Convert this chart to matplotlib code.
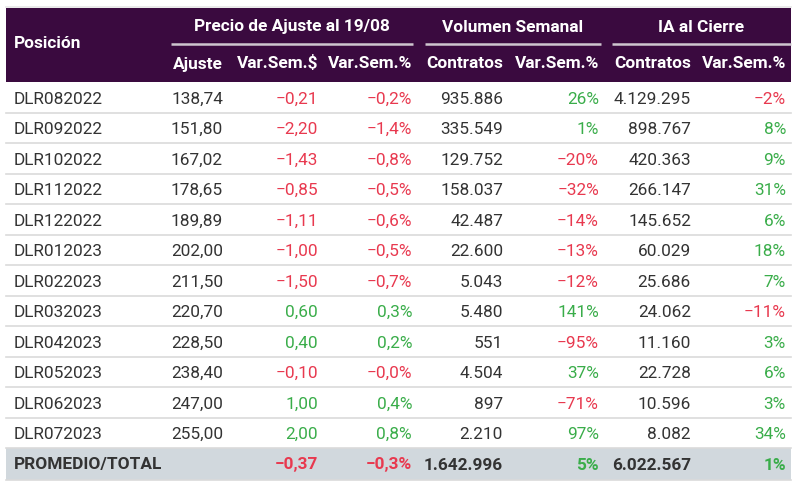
import matplotlib
matplotlib.use("Agg")
import matplotlib.pyplot as plt
from matplotlib.patches import Rectangle

plt.rcParams['font.family'] = ['Roboto', 'DejaVu Sans']

positions = ["DLR082022", "DLR092022", "DLR102022", "DLR112022", "DLR122022", "DLR012023",
             "DLR022023", "DLR032023", "DLR042023", "DLR052023", "DLR062023", "DLR072023"]
ajuste = [138.74, 151.80, 167.02, 178.65, 189.89, 202.00, 211.50, 220.70, 228.50, 238.40, 247.00, 255.00]
var_sem_pesos = [-0.21, -2.20, -1.43, -0.85, -1.11, -1.00, -1.50, 0.60, 0.40, -0.10, 1.00, 2.00]
var_sem_pct = ["-0,2%", "-1,4%", "-0,8%", "-0,5%", "-0,6%", "-0,5%", "-0,7%", "0,3%", "0,2%", "-0,0%", "0,4%", "0,8%"]
vol_contratos = [935886, 335549, 129752, 158037, 42487, 22600, 5043, 5480, 551, 4504, 897, 2210]
vol_var = [26, 1, -20, -32, -14, -13, -12, 141, -95, 37, -71, 97]
ia_contratos = [4129295, 898767, 420363, 266147, 145652, 60029, 25686, 24062, 11160, 22728, 10596, 8082]
ia_var = [-2, 8, 9, 31, 6, 18, 7, -11, 3, 6, 3, 34]

total_label = "PROMEDIO/TOTAL"
total_var_pesos = -0.37
total_var_pct = "-0,3%"
total_vol = 1642996
total_vol_var = 5
total_ia = 6022567
total_ia_var = 1

group_headers = ["Precio de Ajuste al 19/08", "Volumen Semanal", "IA al Cierre"]
sub_headers = ["Ajuste", "Var.Sem.$", "Var.Sem.%", "Contratos", "Var.Sem.%", "Contratos", "Var.Sem.%"]

PURPLE = "#3a0a3f"
RED = "#e8394f"
GREEN = "#3aad4a"
DARK = "#333333"
GRAY_BG = "#d1d8dd"
LINE = "#dadada"

def fmt_dec(v):
    s = f"{abs(v):.2f}".replace(".", ",")
    return ("\u2212" if v < 0 else "") + s

def fmt_int(v):
    return f"{v:,}".replace(",", ".")

def fmt_pct_int(v):
    return ("\u2212" if v < 0 else "") + f"{abs(v)}%"

def fmt_pct_str(s):
    return s.replace("-", "\u2212")

def col(neg):
    return RED if neg else GREEN

fig = plt.figure(figsize=(8, 4.87), dpi=100)
ax = fig.add_axes([0, 0, 1, 1])
ax.set_xlim(0, 800)
ax.set_ylim(487, 0)
ax.axis("off")

left, right = 6, 791
head_top, head_mid, head_bot = 8, 44, 82
row_h = 30.5
fs = 12.4
base_off = 21.8

# header
ax.add_patch(Rectangle((left, head_top), right - left, head_bot - head_top, color=PURPLE, lw=0))
ax.plot([left, right], [head_top - 1.5, head_top - 1.5], color="#e6e6e6", lw=1.2)

col_right = [223, 318, 412, 503, 599, 691, 786]
group_spans = [(171, 413), (425, 601), (612, 791)]

hkw = dict(color="white", fontsize=fs, fontweight="bold", va="baseline")
ax.text(14, 48, "Posición", ha="left", **hkw)
for (x0, x1), g in zip(group_spans, group_headers):
    ax.text((x0 + x1) / 2, 31.5, g, ha="center", **hkw)
    ax.plot([x0, x1], [head_mid, head_mid], color="#cfc6cf", lw=1.8, solid_capstyle="butt")
for xr, s in zip(col_right, sub_headers):
    ax.text(xr, 68.5, s, ha="right", **hkw)

# rows
for i, name in enumerate(positions):
    y0 = head_bot + i * row_h
    yb = y0 + base_off
    kw = dict(fontsize=fs, va="baseline")
    ax.plot([left, right], [y0 + row_h, y0 + row_h], color=LINE, lw=1.2)
    ax.text(14, yb, name, color=DARK, ha="left", **kw)
    ax.text(col_right[0], yb, fmt_dec(ajuste[i]), color=DARK, ha="right", **kw)
    ax.text(col_right[1], yb, fmt_dec(var_sem_pesos[i]), color=col(var_sem_pesos[i] < 0), ha="right", **kw)
    ax.text(col_right[2], yb, fmt_pct_str(var_sem_pct[i]), color=col(var_sem_pct[i].startswith("-")), ha="right", **kw)
    ax.text(col_right[3], yb, fmt_int(vol_contratos[i]), color=DARK, ha="right", **kw)
    ax.text(col_right[4], yb, fmt_pct_int(vol_var[i]), color=col(vol_var[i] < 0), ha="right", **kw)
    ax.text(col_right[5], yb, fmt_int(ia_contratos[i]), color=DARK, ha="right", **kw)
    ax.text(col_right[6], yb, fmt_pct_int(ia_var[i]), color=col(ia_var[i] < 0), ha="right", **kw)

# total row
ty0 = head_bot + len(positions) * row_h
th = 32
ax.add_patch(Rectangle((left, ty0), right - left, th, color=GRAY_BG, lw=0))
tyb = ty0 + 21.5
kw = dict(fontsize=fs, fontweight="bold", va="baseline")
ax.text(14, tyb, total_label, color=DARK, ha="left", **kw)
ax.text(col_right[1], tyb, fmt_dec(total_var_pesos), color=col(total_var_pesos < 0), ha="right", **kw)
ax.text(col_right[2], tyb, fmt_pct_str(total_var_pct), color=col(total_var_pct.startswith("-")), ha="right", **kw)
ax.text(col_right[3], tyb, fmt_int(total_vol), color=DARK, ha="right", **kw)
ax.text(col_right[4], tyb, fmt_pct_int(total_vol_var), color=col(total_vol_var < 0), ha="right", **kw)
ax.text(col_right[5], tyb, fmt_int(total_ia), color=DARK, ha="right", **kw)
ax.text(col_right[6], tyb, fmt_pct_int(total_ia_var), color=col(total_ia_var < 0), ha="right", **kw)
ax.plot([left, right], [ty0 + th, ty0 + th], color=LINE, lw=1.2)

fig.savefig("out.png", dpi=100, facecolor="white")
